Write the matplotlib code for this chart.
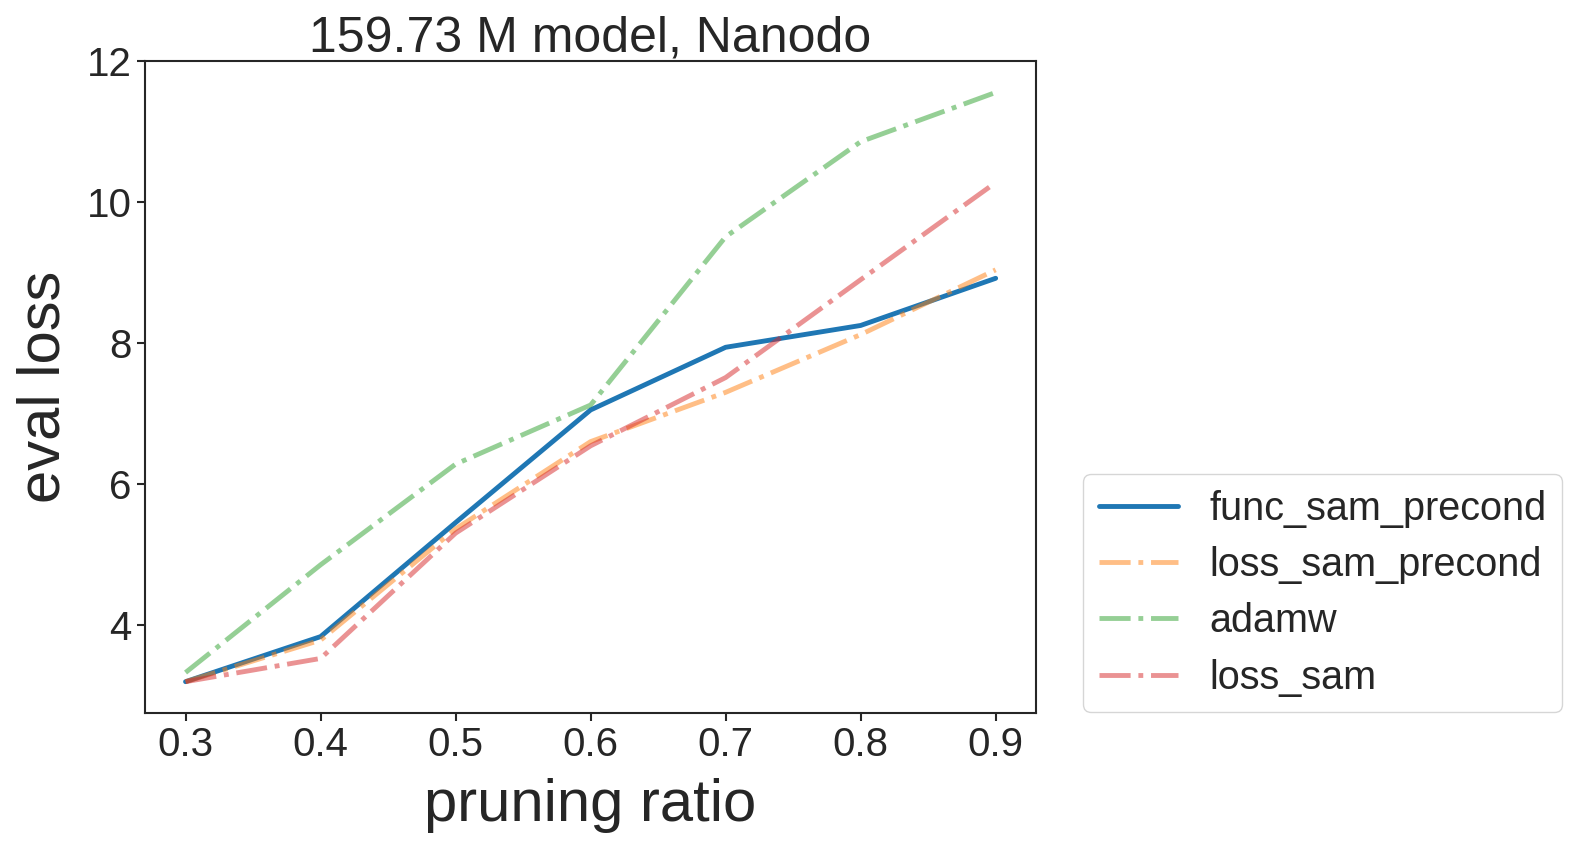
import matplotlib
matplotlib.use("Agg")
import matplotlib.pyplot as plt
import seaborn as sns

sns.set_style("ticks")
plt.rcParams['font.family'] = ['Liberation Sans', 'DejaVu Sans']

pruning_ratio = [0.3, 0.4, 0.5, 0.6, 0.7, 0.8, 0.9]
func_sam_precond = [3.19, 3.83, 5.45, 7.05, 7.94, 8.25, 8.92]
loss_sam_precond = [3.19, 3.78, 5.36, 6.60, 7.30, 8.12, 9.04]
adamw = [3.32, 4.85, 6.28, 7.12, 9.51, 10.86, 11.56]
loss_sam = [3.19, 3.52, 5.30, 6.54, 7.51, 8.90, 10.28]

fig = plt.figure(figsize=(15.8, 8.49), dpi=100)
ax = fig.add_axes([0.0918, 0.1606, 0.5640, 0.767])

ax.plot(pruning_ratio, func_sam_precond, '-', color='#1f77b4', lw=3.5, label='func_sam_precond')
ax.plot(pruning_ratio, loss_sam_precond, '-.', color='#ff7f0e', alpha=0.5, lw=3.5, label='loss_sam_precond')
ax.plot(pruning_ratio, adamw, '-.', color='#2ca02c', alpha=0.5, lw=3.5, label='adamw')
ax.plot(pruning_ratio, loss_sam, '-.', color='#d62728', alpha=0.5, lw=3.5, label='loss_sam')

ax.set_ylim(2.75, 12.0)
ax.set_xticks(pruning_ratio)
ax.set_xticklabels(['0.3', '0.4', '0.5', '0.6', '0.7', '0.8', '0.9'])
ax.set_yticks([4, 6, 8, 10, 12])
ax.tick_params(labelsize=29, length=6, width=1.5)
for s in ax.spines.values():
    s.set_linewidth(1.5)
ax.set_xlabel('pruning ratio', fontsize=43, labelpad=10)
ax.set_ylabel('eval loss', fontsize=43, labelpad=11)
ax.set_title('159.73 M model, Nanodo', fontsize=36, pad=5)
ax.legend(loc='lower left', bbox_to_anchor=(1.03, -0.03), fontsize=28.5, frameon=True,
          handlelength=2.0, borderpad=0.4, labelspacing=0.46)

fig.savefig('out.png', dpi=100)
